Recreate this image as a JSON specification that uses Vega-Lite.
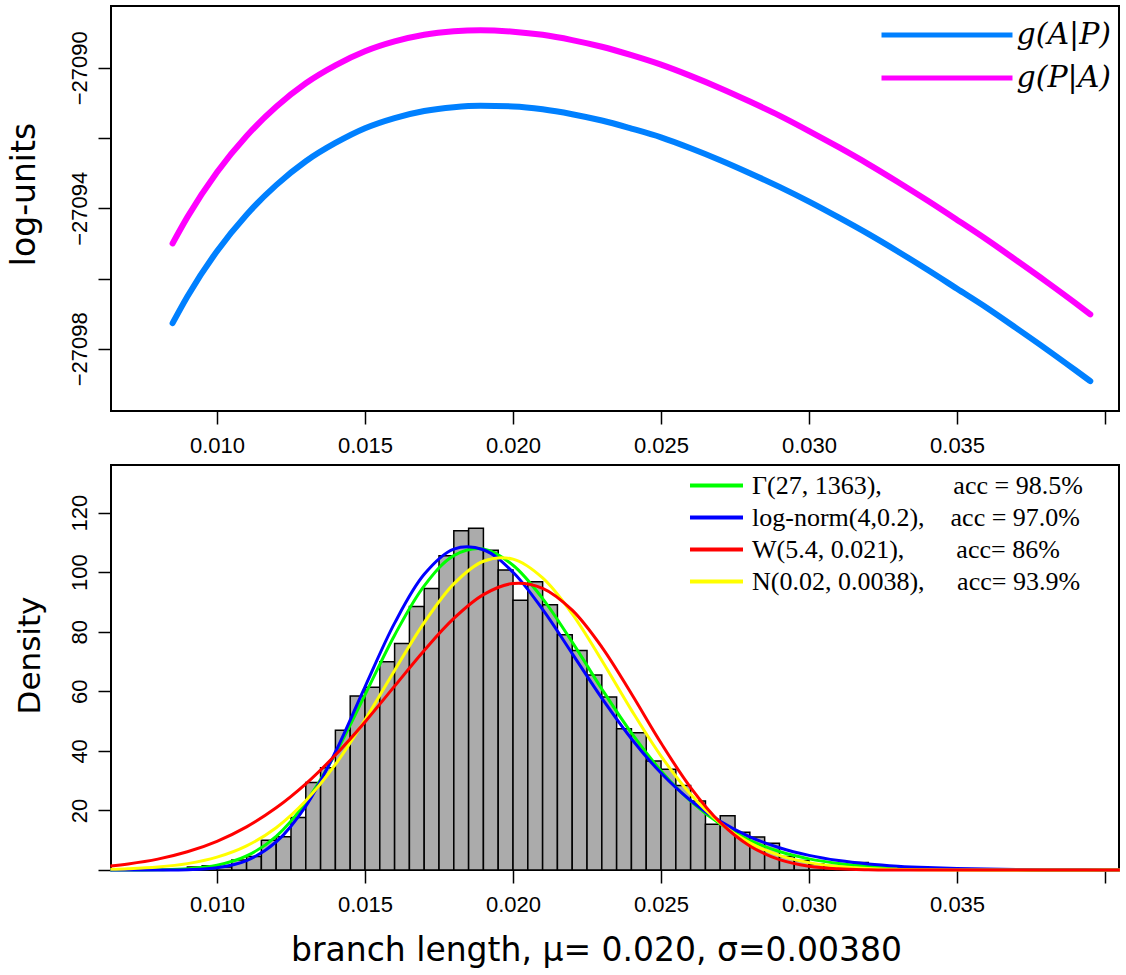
{
  "$schema": "https://vega.github.io/schema/vega-lite/v6.json",
  "background": "white",
  "padding": {"left": 7, "top": 5, "right": 8, "bottom": 5},
  "spacing": 7,
  "resolve": {"scale": {"color": "independent"}, "legend": {"color": "independent"}},
  "config": {
    "view": {"stroke": "black", "strokeWidth": 2},
    "axis": {"grid": false, "domain": false, "tickColor": "black", "tickWidth": 1.5, "tickSize": 13, "labelFont": "Liberation Sans", "labelFontSize": 22, "labelColor": "black", "titleColor": "black", "titleFont": "DejaVu Sans", "titleFontSize": 31, "titleFontWeight": "normal"},
    "legend": {"labelColor": "black", "labelLimit": 0, "title": null}
  },
  "datasets": {
    "top": [
      {"x":0.0085,"v":-27097.27,"s":"b"},{"x":0.009,"v":-27096.51,"s":"b"},{"x":0.010,"v":-27095.22,"s":"b"},{"x":0.011,"v":-27094.18,"s":"b"},{"x":0.012,"v":-27093.34,"s":"b"},{"x":0.013,"v":-27092.66,"s":"b"},{"x":0.014,"v":-27092.14,"s":"b"},{"x":0.015,"v":-27091.72,"s":"b"},{"x":0.016,"v":-27091.43,"s":"b"},{"x":0.017,"v":-27091.23,"s":"b"},{"x":0.018,"v":-27091.12,"s":"b"},{"x":0.0189,"v":-27091.08,"s":"b"},{"x":0.020,"v":-27091.10,"s":"b"},{"x":0.021,"v":-27091.18,"s":"b"},{"x":0.022,"v":-27091.32,"s":"b"},{"x":0.023,"v":-27091.50,"s":"b"},{"x":0.024,"v":-27091.73,"s":"b"},{"x":0.025,"v":-27091.98,"s":"b"},{"x":0.026,"v":-27092.29,"s":"b"},{"x":0.027,"v":-27092.63,"s":"b"},{"x":0.028,"v":-27093.00,"s":"b"},{"x":0.029,"v":-27093.39,"s":"b"},{"x":0.030,"v":-27093.81,"s":"b"},{"x":0.031,"v":-27094.26,"s":"b"},{"x":0.032,"v":-27094.73,"s":"b"},{"x":0.033,"v":-27095.23,"s":"b"},{"x":0.034,"v":-27095.75,"s":"b"},{"x":0.035,"v":-27096.29,"s":"b"},{"x":0.036,"v":-27096.83,"s":"b"},{"x":0.037,"v":-27097.41,"s":"b"},{"x":0.038,"v":-27098.00,"s":"b"},{"x":0.039,"v":-27098.61,"s":"b"},{"x":0.0395,"v":-27098.92,"s":"b"},
      {"x":0.0085,"v":-27095.00,"s":"m"},{"x":0.009,"v":-27094.25,"s":"m"},{"x":0.010,"v":-27092.97,"s":"m"},{"x":0.011,"v":-27091.94,"s":"m"},{"x":0.012,"v":-27091.11,"s":"m"},{"x":0.013,"v":-27090.44,"s":"m"},{"x":0.014,"v":-27089.93,"s":"m"},{"x":0.015,"v":-27089.53,"s":"m"},{"x":0.016,"v":-27089.25,"s":"m"},{"x":0.017,"v":-27089.06,"s":"m"},{"x":0.018,"v":-27088.96,"s":"m"},{"x":0.0189,"v":-27088.93,"s":"m"},{"x":0.020,"v":-27088.97,"s":"m"},{"x":0.021,"v":-27089.06,"s":"m"},{"x":0.022,"v":-27089.21,"s":"m"},{"x":0.023,"v":-27089.40,"s":"m"},{"x":0.024,"v":-27089.64,"s":"m"},{"x":0.025,"v":-27089.91,"s":"m"},{"x":0.026,"v":-27090.23,"s":"m"},{"x":0.027,"v":-27090.58,"s":"m"},{"x":0.028,"v":-27090.96,"s":"m"},{"x":0.029,"v":-27091.36,"s":"m"},{"x":0.030,"v":-27091.80,"s":"m"},{"x":0.031,"v":-27092.26,"s":"m"},{"x":0.032,"v":-27092.74,"s":"m"},{"x":0.033,"v":-27093.25,"s":"m"},{"x":0.034,"v":-27093.78,"s":"m"},{"x":0.035,"v":-27094.33,"s":"m"},{"x":0.036,"v":-27094.89,"s":"m"},{"x":0.037,"v":-27095.48,"s":"m"},{"x":0.038,"v":-27096.08,"s":"m"},{"x":0.039,"v":-27096.70,"s":"m"},{"x":0.0395,"v":-27097.02,"s":"m"}
    ],
    "hist": [
      {"lo":0.0090,"hi":0.0095,"d":1.0},{"lo":0.0095,"hi":0.0100,"d":1.4},{"lo":0.0100,"hi":0.0105,"d":1.0},{"lo":0.0105,"hi":0.0110,"d":3.4},{"lo":0.0110,"hi":0.0115,"d":4.5},{"lo":0.0115,"hi":0.0120,"d":10.0},{"lo":0.0120,"hi":0.0125,"d":11.2},{"lo":0.0125,"hi":0.0130,"d":17.6},{"lo":0.0130,"hi":0.0135,"d":29.4},{"lo":0.0135,"hi":0.0140,"d":34.3},{"lo":0.0140,"hi":0.0145,"d":46.9},{"lo":0.0145,"hi":0.0150,"d":58.4},{"lo":0.0150,"hi":0.0155,"d":61.4},{"lo":0.0155,"hi":0.0160,"d":69.9},{"lo":0.0160,"hi":0.0165,"d":76.1},{"lo":0.0165,"hi":0.0170,"d":88.5},{"lo":0.0170,"hi":0.0175,"d":94.5},{"lo":0.0175,"hi":0.0180,"d":105.5},{"lo":0.0180,"hi":0.0185,"d":113.9},{"lo":0.0185,"hi":0.0190,"d":114.8},{"lo":0.0190,"hi":0.0195,"d":107.4},{"lo":0.0195,"hi":0.0200,"d":100.7},{"lo":0.0200,"hi":0.0205,"d":90.6},{"lo":0.0205,"hi":0.0210,"d":96.8},{"lo":0.0210,"hi":0.0215,"d":89.1},{"lo":0.0215,"hi":0.0220,"d":79.0},{"lo":0.0220,"hi":0.0225,"d":73.7},{"lo":0.0225,"hi":0.0230,"d":65.5},{"lo":0.0230,"hi":0.0235,"d":58.1},{"lo":0.0235,"hi":0.0240,"d":47.4},{"lo":0.0240,"hi":0.0245,"d":46.1},{"lo":0.0245,"hi":0.0250,"d":36.6},{"lo":0.0250,"hi":0.0255,"d":33.8},{"lo":0.0255,"hi":0.0260,"d":28.4},{"lo":0.0260,"hi":0.0265,"d":23.2},{"lo":0.0265,"hi":0.0270,"d":15.4},{"lo":0.0270,"hi":0.0275,"d":18.2},{"lo":0.0275,"hi":0.0280,"d":12.7},{"lo":0.0280,"hi":0.0285,"d":11.1},{"lo":0.0285,"hi":0.0290,"d":9.0},{"lo":0.0290,"hi":0.0295,"d":4.5},{"lo":0.0295,"hi":0.0300,"d":3.2},{"lo":0.0300,"hi":0.0305,"d":2.0},{"lo":0.0305,"hi":0.0310,"d":1.5},{"lo":0.0310,"hi":0.0315,"d":1.2},{"lo":0.0315,"hi":0.0320,"d":2.5}
    ],
    "curves": [
      {"x":0.0064,"d":0.002,"s":"g"},{"x":0.007,"d":0.009,"s":"g"},{"x":0.008,"d":0.076,"s":"g"},{"x":0.009,"d":0.41,"s":"g"},{"x":0.010,"d":1.58,"s":"g"},{"x":0.011,"d":4.71,"s":"g"},{"x":0.012,"d":11.33,"s":"g"},{"x":0.013,"d":22.72,"s":"g"},{"x":0.014,"d":39.06,"s":"g"},{"x":0.015,"d":58.82,"s":"g"},{"x":0.016,"d":78.84,"s":"g"},{"x":0.017,"d":95.43,"s":"g"},{"x":0.018,"d":105.57,"s":"g"},{"x":0.019,"d":107.81,"s":"g"},{"x":0.020,"d":102.35,"s":"g"},{"x":0.021,"d":91.14,"s":"g"},{"x":0.022,"d":76.51,"s":"g"},{"x":0.023,"d":60.79,"s":"g"},{"x":0.024,"d":46.02,"s":"g"},{"x":0.025,"d":33.29,"s":"g"},{"x":0.026,"d":23.11,"s":"g"},{"x":0.027,"d":15.43,"s":"g"},{"x":0.028,"d":9.95,"s":"g"},{"x":0.029,"d":6.20,"s":"g"},{"x":0.030,"d":3.74,"s":"g"},{"x":0.031,"d":2.20,"s":"g"},{"x":0.032,"d":1.26,"s":"g"},{"x":0.033,"d":0.70,"s":"g"},{"x":0.034,"d":0.38,"s":"g"},{"x":0.035,"d":0.20,"s":"g"},{"x":0.036,"d":0.11,"s":"g"},{"x":0.037,"d":0.05,"s":"g"},{"x":0.038,"d":0.03,"s":"g"},{"x":0.039,"d":0.01,"s":"g"},{"x":0.040,"d":0.006,"s":"g"},{"x":0.0405,"d":0.004,"s":"g"},
      {"x":0.0064,"d":0.0,"s":"l"},{"x":0.007,"d":0.0005,"s":"l"},{"x":0.008,"d":0.011,"s":"l"},{"x":0.009,"d":0.12,"s":"l"},{"x":0.010,"d":0.77,"s":"l"},{"x":0.011,"d":3.18,"s":"l"},{"x":0.012,"d":9.43,"s":"l"},{"x":0.013,"d":21.47,"s":"l"},{"x":0.014,"d":39.61,"s":"l"},{"x":0.015,"d":61.50,"s":"l"},{"x":0.016,"d":82.89,"s":"l"},{"x":0.017,"d":99.29,"s":"l"},{"x":0.018,"d":107.74,"s":"l"},{"x":0.019,"d":107.54,"s":"l"},{"x":0.020,"d":99.99,"s":"l"},{"x":0.021,"d":87.50,"s":"l"},{"x":0.022,"d":72.68,"s":"l"},{"x":0.023,"d":57.72,"s":"l"},{"x":0.024,"d":44.09,"s":"l"},{"x":0.025,"d":32.56,"s":"l"},{"x":0.026,"d":23.35,"s":"l"},{"x":0.027,"d":16.32,"s":"l"},{"x":0.028,"d":11.16,"s":"l"},{"x":0.029,"d":7.48,"s":"l"},{"x":0.030,"d":4.92,"s":"l"},{"x":0.031,"d":3.19,"s":"l"},{"x":0.032,"d":2.05,"s":"l"},{"x":0.033,"d":1.30,"s":"l"},{"x":0.034,"d":0.81,"s":"l"},{"x":0.035,"d":0.50,"s":"l"},{"x":0.036,"d":0.31,"s":"l"},{"x":0.037,"d":0.19,"s":"l"},{"x":0.038,"d":0.12,"s":"l"},{"x":0.039,"d":0.07,"s":"l"},{"x":0.040,"d":0.04,"s":"l"},{"x":0.0405,"d":0.03,"s":"l"},
      {"x":0.0064,"d":0.25,"s":"n"},{"x":0.007,"d":0.43,"s":"n"},{"x":0.008,"d":1.00,"s":"n"},{"x":0.009,"d":2.14,"s":"n"},{"x":0.010,"d":4.32,"s":"n"},{"x":0.011,"d":8.11,"s":"n"},{"x":0.012,"d":14.21,"s":"n"},{"x":0.013,"d":23.23,"s":"n"},{"x":0.014,"d":35.44,"s":"n"},{"x":0.015,"d":50.45,"s":"n"},{"x":0.016,"d":67.02,"s":"n"},{"x":0.017,"d":83.07,"s":"n"},{"x":0.018,"d":96.07,"s":"n"},{"x":0.019,"d":103.68,"s":"n"},{"x":0.020,"d":104.40,"s":"n"},{"x":0.021,"d":98.09,"s":"n"},{"x":0.022,"d":86.00,"s":"n"},{"x":0.023,"d":70.35,"s":"n"},{"x":0.024,"d":53.70,"s":"n"},{"x":0.025,"d":38.25,"s":"n"},{"x":0.026,"d":25.42,"s":"n"},{"x":0.027,"d":15.76,"s":"n"},{"x":0.028,"d":9.12,"s":"n"},{"x":0.029,"d":4.92,"s":"n"},{"x":0.030,"d":2.48,"s":"n"},{"x":0.031,"d":1.17,"s":"n"},{"x":0.032,"d":0.51,"s":"n"},{"x":0.033,"d":0.21,"s":"n"},{"x":0.034,"d":0.08,"s":"n"},{"x":0.035,"d":0.03,"s":"n"},{"x":0.036,"d":0.01,"s":"n"},{"x":0.037,"d":0.0,"s":"n"},{"x":0.038,"d":0.0,"s":"n"},{"x":0.039,"d":0.0,"s":"n"},{"x":0.040,"d":0.0,"s":"n"},{"x":0.0405,"d":0.0,"s":"n"},
      {"x":0.0064,"d":1.38,"s":"w"},{"x":0.007,"d":2.04,"s":"w"},{"x":0.008,"d":3.66,"s":"w"},{"x":0.009,"d":6.12,"s":"w"},{"x":0.010,"d":9.65,"s":"w"},{"x":0.011,"d":14.50,"s":"w"},{"x":0.012,"d":20.88,"s":"w"},{"x":0.013,"d":28.92,"s":"w"},{"x":0.014,"d":38.61,"s":"w"},{"x":0.015,"d":49.73,"s":"w"},{"x":0.016,"d":61.74,"s":"w"},{"x":0.017,"d":73.73,"s":"w"},{"x":0.018,"d":84.47,"s":"w"},{"x":0.019,"d":92.46,"s":"w"},{"x":0.020,"d":96.22,"s":"w"},{"x":0.021,"d":94.60,"s":"w"},{"x":0.022,"d":87.24,"s":"w"},{"x":0.023,"d":74.85,"s":"w"},{"x":0.024,"d":59.18,"s":"w"},{"x":0.025,"d":42.64,"s":"w"},{"x":0.026,"d":27.69,"s":"w"},{"x":0.027,"d":15.97,"s":"w"},{"x":0.028,"d":8.07,"s":"w"},{"x":0.029,"d":3.51,"s":"w"},{"x":0.030,"d":1.29,"s":"w"},{"x":0.031,"d":0.40,"s":"w"},{"x":0.032,"d":0.10,"s":"w"},{"x":0.033,"d":0.02,"s":"w"},{"x":0.034,"d":0.0,"s":"w"},{"x":0.035,"d":0.0,"s":"w"},{"x":0.036,"d":0.0,"s":"w"},{"x":0.037,"d":0.0,"s":"w"},{"x":0.038,"d":0.0,"s":"w"},{"x":0.039,"d":0.0,"s":"w"},{"x":0.040,"d":0.0,"s":"w"},{"x":0.0405,"d":0.0,"s":"w"}
    ]
  },
  "vconcat": [
    {
      "width": 1008,
      "height": 405,
      "data": {"name": "top"},
      "mark": {"type": "line", "strokeWidth": 6, "strokeCap": "round", "interpolate": "monotone"},
      "encoding": {
        "x": {"field": "x", "type": "quantitative", "scale": {"domain": [0.00642, 0.04047], "nice": false, "zero": false},
              "axis": {"values": [0.01, 0.015, 0.02, 0.025, 0.03, 0.035, 0.04], "format": ".3f", "labelExpr": "datum.value > 0.0375 ? '' : datum.label", "title": null, "labelPadding": 11}},
        "y": {"field": "v", "type": "quantitative", "scale": {"domain": [-27099.77, -27088.24], "nice": false, "zero": false},
              "axis": {"values": [-27098, -27096, -27094, -27092, -27090], "format": "d", "labelExpr": "abs(datum.value + 27090) % 4 < 0.5 ? datum.label : ''", "labelAngle": -90, "labelAlign": "center", "labelBaseline": "alphabetic", "labelPadding": 12, "title": "log-units", "titleFontSize": 33, "titleAngle": -90, "titleAlign": "center", "titleBaseline": "alphabetic", "titleX": -77, "titleY": 188}},
        "color": {"field": "s", "type": "nominal", "scale": {"domain": ["b", "m"], "range": ["#0080FF", "#FF00FF"]},
                  "legend": {"orient": "top-right", "offset": 2, "padding": 5.5, "symbolType": "M-3.447,0H3.447", "symbolSize": 1444, "symbolStrokeWidth": 5, "labelOffset": 48, "rowPadding": 6, "labelFont": "DejaVu Serif", "labelFontStyle": "italic", "labelFontSize": 30,
                             "labelExpr": "datum.value == 'b' ? 'g(A|P)' : 'g(P|A)'"}}
      }
    },
    {
      "width": 1008,
      "height": 405,
      "layer": [
        {
          "data": {"name": "hist"},
          "mark": {"type": "rect", "fill": "#ABABAB", "stroke": "black", "strokeWidth": 1.5},
          "encoding": {
            "x": {"field": "lo", "type": "quantitative", "scale": {"domain": [0.00642, 0.04047], "nice": false, "zero": false},
                  "axis": {"values": [0.01, 0.015, 0.02, 0.025, 0.03, 0.035, 0.04], "format": ".3f", "labelExpr": "datum.value > 0.0375 ? '' : datum.label", "title": "branch length, μ= 0.020, σ=0.00380", "labelPadding": 11, "titleFontSize": 33, "titleBaseline": "alphabetic", "titleX": 485, "titleY": 90}},
            "x2": {"field": "hi"},
            "y": {"field": "d", "type": "quantitative", "scale": {"domain": [0, 136], "nice": false, "zero": true},
                  "axis": {"values": [0, 20, 40, 60, 80, 100, 120], "labelExpr": "datum.value == 0 ? '' : datum.label", "labelAngle": -90, "labelAlign": "center", "labelBaseline": "alphabetic", "labelPadding": 12, "title": "Density", "titleAngle": -90, "titleAlign": "center", "titleBaseline": "alphabetic", "titleX": -72, "titleY": 190}},
            "y2": {"datum": 0}
          }
        },
        {
          "data": {"name": "curves"},
          "mark": {"type": "line", "strokeWidth": 3, "interpolate": "catmull-rom"},
          "encoding": {
            "x": {"field": "x", "type": "quantitative"},
            "y": {"field": "d", "type": "quantitative"},
            "color": {"field": "s", "type": "nominal", "scale": {"domain": ["g", "l", "w", "n"], "range": ["#00FF00", "#0000FF", "#FF0000", "#FFFF00"]},
                      "legend": {"orient": "top-right", "offset": 1, "padding": 4, "symbolType": "M-1.963,0H1.963", "symbolSize": 729, "symbolStrokeWidth": 4, "labelOffset": 20, "rowPadding": 3, "labelFont": "Liberation Serif", "labelFontSize": 26,
                                 "labelExpr": "datum.value == 'g' ? 'Γ(27, 1363),\u00a0\u00a0\u00a0\u00a0\u00a0\u00a0\u00a0\u00a0\u00a0\u00a0\u00a0acc = 98.5%\u00a0\u00a0\u00a0\u00a0\u2009\u200b' : datum.value == 'l' ? 'log-norm(4,0.2),\u00a0\u00a0\u00a0\u00a0acc = 97.0%' : datum.value == 'w' ? 'W(5.4, 0.021),\u00a0\u00a0\u00a0\u00a0\u00a0\u00a0\u00a0\u00a0acc= 86%' : 'N(0.02, 0.0038),\u00a0\u00a0\u00a0\u00a0\u00a0acc= 93.9%'"}}
          }
        }
      ]
    }
  ]
}
